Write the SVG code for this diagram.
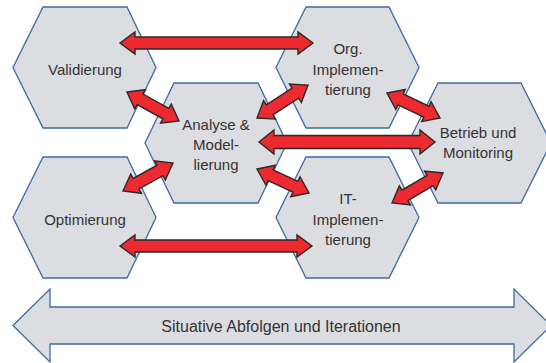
<svg xmlns="http://www.w3.org/2000/svg" width="546" height="363" viewBox="0 0 546 363">
<style>
.hex{fill:#dcdde0;stroke:#3d6aa8;stroke-width:1.3}
.t{font-family:"Liberation Sans",Arial,sans-serif;font-size:15px;fill:#333;text-anchor:middle}
.tb{font-family:"Liberation Sans",Arial,sans-serif;font-size:16px;fill:#333;text-anchor:middle}
.ar{fill:#ec2a2f;stroke:#2a2a2a;stroke-width:1.4;stroke-linejoin:miter}
</style>
<rect width="546" height="363" fill="#fff"/>
<g id="validierung">
<polygon class="hex" points="13,67.5 43,7 127,7 156,67.5 127,128 43,128"/>
<text class="t" x="85" y="75">Validierung</text>
</g>
<g id="org-implementierung">
<polygon class="hex" points="276,67.5 306,7 389,7 419,67.5 389,128 306,128"/>
<text class="t" x="348" y="54">Org.</text>
<text class="t" x="348" y="75">Implemen-</text>
<text class="t" x="348" y="95">tierung</text>
</g>
<g id="analyse">
<polygon class="hex" points="145,143 174,83 258,83 287,143 258,203 174,203"/>
<text class="t" x="216" y="130">Analyse &amp;</text>
<text class="t" x="216" y="150">Model-</text>
<text class="t" x="216" y="170">lierung</text>
</g>
<g id="betrieb">
<polygon class="hex" points="408,143 438,83 521,83 551,143 521,203 438,203"/>
<text class="t" x="478" y="138">Betrieb und</text>
<text class="t" x="478" y="158">Monitoring</text>
</g>
<g id="optimierung">
<polygon class="hex" points="13,217.5 43,157 127,157 156,217.5 127,278 43,278"/>
<text class="t" x="85" y="225">Optimierung</text>
</g>
<g id="it-implementierung">
<polygon class="hex" points="276,217.5 306,157 389,157 419,217.5 389,278 306,278"/>
<text class="t" x="348" y="204">IT-</text>
<text class="t" x="348" y="225">Implemen-</text>
<text class="t" x="348" y="245">tierung</text>
</g>
<g id="abfolgen">
<polygon class="hex" points="13,325.5 50,289 50,307 514,307 514,289 551,325.5 514,362 514,344 50,344 50,362"/>
<text class="tb" x="281" y="332">Situative Abfolgen und Iterationen</text>
</g>
<g id="connectors">
<polygon class="ar" transform="translate(120,43)" points="0,0 15,-11 15,-6 178,-6 178,-11 193,0 178,11 178,6 15,6 15,11"/>
<polygon class="ar" transform="translate(120,246)" points="0,0 15,-11 15,-6 177,-6 177,-11 192,0 177,11 177,6 15,6 15,11"/>
<polygon class="ar" transform="translate(259,142)" points="0,0 15,-12 15,-6.5 161,-6.5 161,-12 176,0 161,12 161,6.5 15,6.5 15,12"/>
<polygon class="ar" transform="translate(127,92) rotate(29.1)" points="0,0 15,-11 15,-6 44.5,-6 44.5,-11 59.5,0 44.5,11 44.5,6 15,6 15,11"/>
<polygon class="ar" transform="translate(257,118) rotate(-32.9)" points="0,0 15,-11 15,-6 45.7,-6 45.7,-11 60.7,0 45.7,11 45.7,6 15,6 15,11"/>
<polygon class="ar" transform="translate(387,93) rotate(25.3)" points="0,0 15,-11 15,-6 43.6,-6 43.6,-11 58.6,0 43.6,11 43.6,6 15,6 15,11"/>
<polygon class="ar" transform="translate(123,191) rotate(-29.2)" points="0,0 15,-11 15,-6 42.3,-6 42.3,-11 57.3,0 42.3,11 42.3,6 15,6 15,11"/>
<polygon class="ar" transform="translate(257,169) rotate(24.8)" points="0,0 15,-11 15,-6 42.3,-6 42.3,-11 57.3,0 42.3,11 42.3,6 15,6 15,11"/>
<polygon class="ar" transform="translate(392,203) rotate(-30.5)" points="0,0 15,-11 15,-6 44.2,-6 44.2,-11 59.2,0 44.2,11 44.2,6 15,6 15,11"/>
</g>
</svg>
